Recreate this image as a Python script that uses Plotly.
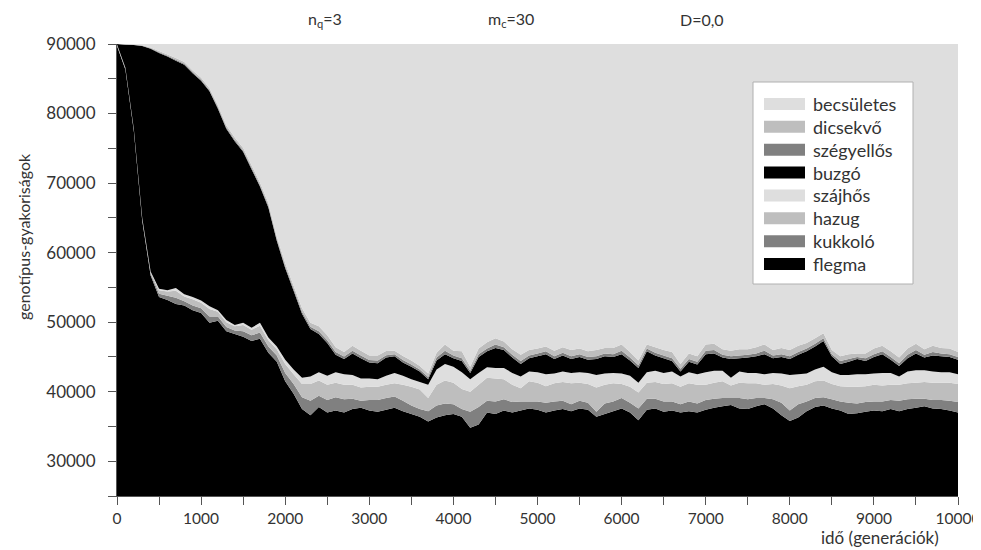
import plotly.graph_objects as go

generations = list(range(0, 10001, 100))

flegma = [89700, 86300, 77500, 64600, 56700, 53600, 53200, 52600, 52400, 51700,
          51300, 49900, 50200, 48700, 48300, 47900, 47300, 47600, 45600, 44300,
          41500, 39700, 37500, 36600, 37800, 37000, 37300, 37000, 37500, 37700,
          37300, 37100, 37400, 37700, 37200, 36800, 36400, 35700, 36300, 36600,
          36800, 36400, 34800, 35300, 37000, 36800, 37300, 37000, 37300, 37600,
          37400, 37000, 37300, 37500, 37200, 37600, 37400, 36400, 36800, 37200,
          37600, 37000, 35900, 37400, 37600, 37100, 37300, 37000, 37200, 37000,
          37400, 37700, 37900, 38100, 37600, 37500, 37900, 38200, 37600, 36600,
          35800, 36300, 37200, 37800, 38000, 37600, 37300, 36800, 36900, 37100,
          37300, 37200, 37500, 37200, 37500, 37700, 37900, 37600, 37500, 37300,
          37000]

kukkolo = [100, 100, 120, 150, 250, 500, 600, 900, 600, 700,
           700, 900, 600, 600, 500, 800, 800, 900, 900, 900,
           1200, 1400, 1700, 2100, 1600, 1800, 1900, 1900, 1500, 1000,
           1500, 1700, 1700, 1600, 1500, 1200, 1100, 1500, 1700, 1700,
           1400, 1100, 2300, 2500, 1700, 1800, 1600, 1500, 1300, 1000,
           1200, 1400, 1300, 1200, 1000, 1100, 1000, 700, 1500, 1400,
           1500, 1400, 1700, 1600, 1400, 1500, 1300, 1200, 1400, 1300,
           1400, 1300, 1200, 1000, 1500, 1400, 1200, 900, 1300, 1800,
           1500, 1900, 1400, 1300, 1200, 1300, 1300, 1600, 1400, 1400,
           1300, 1400, 1300, 1500, 1400, 1300, 1100, 1200, 1300, 1400,
           1500]

hazug = [100, 120, 120, 150, 250, 500, 600, 1000, 700, 900,
         800, 1100, 700, 700, 600, 900, 800, 1000, 900, 900,
         1300, 1400, 1900, 2400, 2200, 2200, 2100, 2100, 2000, 1900,
         1900, 1900, 1900, 1900, 2300, 2700, 2800, 1900, 3000, 3300,
         3100, 2900, 2900, 3200, 3300, 3300, 2900, 2500, 1900, 2900,
         2700, 2400, 2600, 2700, 3000, 2600, 2700, 3500, 2700, 2600,
         2000, 2300, 2300, 2300, 2400, 2500, 2600, 2500, 2600, 2700,
         2200, 2300, 2400, 1800, 2200, 2300, 2100, 1900, 2200, 2500,
         3200, 2600, 2400, 2400, 2400, 2200, 2200, 2300, 2400, 2300,
         2400, 2300, 2200, 2300, 2300, 2300, 2400, 2500, 2500, 2600,
         2600]

szajhos = [50, 80, 60, 100, 100, 200, 200, 400, 300, 300,
           300, 400, 200, 300, 200, 300, 300, 400, 400, 400,
           600, 700, 900, 1100, 1200, 1300, 1500, 1500, 1400, 1300,
           1200, 1100, 1300, 1500, 1300, 1100, 1100, 1900, 2200, 2400,
           2300, 2400, 1800, 1700, 1500, 1500, 1600, 1700, 1700, 1400,
           1500, 1700, 1400, 1500, 1500, 1500, 1600, 1800, 1600, 1500,
           1500, 1600, 1400, 1500, 1600, 1600, 1700, 1500, 1600, 1500,
           1800, 1700, 1500, 1100, 1600, 1500, 1500, 1500, 1600, 1700,
           1900, 1700, 1600, 1700, 2000, 1700, 1600, 1700, 1800, 1700,
           1600, 1800, 1700, 1200, 1700, 1800, 1700, 1600, 1500, 1500,
           1400]

buzgo = [50, 3300, 12050, 24700, 32000, 33900, 33600, 32700, 33000, 32200,
         31600, 30900, 29000, 27500, 26400, 24600, 22800, 19600, 18700, 15200,
         13200, 11300, 9200, 6800, 5500, 4700, 2500, 2200, 3100, 2900,
         2300, 2300, 2600, 2400, 1900, 1800, 1500, 800, 1300, 1400,
         1200, 1600, 900, 2300, 2300, 2900, 2600, 2200, 1800, 1900,
         2300, 2900, 2100, 2300, 2000, 2200, 1900, 2300, 2500, 2300,
         2800, 2200, 2100, 3000, 2200, 2100, 1500, 700, 1500, 1400,
         2600, 2500, 1900, 2700, 1900, 2200, 2400, 2900, 2100, 2400,
         2300, 2800, 3200, 3300, 3700, 2300, 1600, 1900, 2200, 1900,
         2400, 2700, 1900, 1500, 1900, 2400, 1800, 2300, 2300, 2200,
         2100]

szegyellos = [0, 20, 30, 50, 80, 100, 100, 150, 150, 150,
              150, 150, 200, 200, 200, 200, 200, 200, 250, 250,
              250, 300, 300, 350, 400, 400, 400, 350, 400, 400,
              350, 400, 350, 300, 350, 300, 300, 300, 400, 500,
              400, 400, 300, 400, 400, 500, 400, 400, 400, 400,
              400, 400, 400, 400, 400, 400, 400, 400, 400, 400,
              500, 400, 400, 400, 400, 400, 400, 400, 400, 400,
              500, 500, 400, 400, 400, 400, 400, 500, 400, 400,
              400, 400, 400, 400, 400, 300, 400, 400, 300, 400,
              400, 400, 400, 400, 500, 500, 400, 500, 400, 400,
              400]

dicsekvo = [0, 30, 50, 80, 120, 200, 200, 250, 250, 250,
            300, 300, 300, 300, 350, 350, 350, 400, 400, 400,
            450, 450, 500, 550, 700, 700, 700, 650, 700, 700,
            650, 700, 600, 500, 600, 600, 500, 500, 700, 900,
            700, 1000, 600, 800, 900, 900, 800, 800, 900, 800,
            700, 700, 800, 800, 900, 800, 800, 900, 800, 900,
            900, 800, 700, 600, 800, 800, 900, 700, 800, 800,
            900, 900, 800, 800, 900, 800, 900, 900, 800, 900,
            900, 900, 800, 800, 700, 600, 700, 700, 500, 700,
            800, 800, 800, 800, 900, 900, 800, 900, 800, 800,
            700]

becsuletes = [0, 50, 70, 170, 500, 1000, 1500, 2000, 2600, 3800,
              4850, 6350, 8800, 11700, 13450, 14950, 17450, 19900, 22850, 27650,
              31500, 34750, 38000, 40100, 40600, 41900, 43600, 44300, 43400, 44100,
              44800, 44800, 44150, 44100, 44850, 45500, 46300, 47400, 44400, 43200,
              44100, 44200, 46400, 43800, 42900, 42300, 42800, 43900, 44700, 44000,
              43800, 43500, 44100, 43600, 44000, 43800, 44200, 44000, 43700, 43700,
              43200, 44300, 45500, 43200, 43600, 44000, 44300, 46000, 44500, 44900,
              43200, 43100, 43900, 44100, 43900, 43900, 43600, 43200, 44000, 43700,
              44000, 43400, 43000, 42300, 41600, 44000, 44900, 44600, 44500, 44500,
              43800, 43400, 44200, 45100, 43800, 43100, 43900, 43400, 43700, 43800,
              44300]

series_names = ["flegma", "kukkoló", "hazug", "szájhős",
                "buzgó", "szégyellős", "dicsekvő", "becsületes"]
series_values = [flegma, kukkolo, hazug, szajhos,
                 buzgo, szegyellos, dicsekvo, becsuletes]
series_colors = ["#000000", "#808080", "#bebebe", "#dedede",
                 "#000000", "#808080", "#bebebe", "#dedede"]

x_tick_vals = list(range(0, 10001, 500))
x_tick_text = ["0", "", "1000", "", "2000", "", "3000", "", "4000", "", "5000", "",
               "6000", "", "7000", "", "8000", "", "9000", "", "10000"]
y_tick_vals = list(range(25000, 90001, 5000))
y_tick_text = ["", "30000", "", "40000", "", "50000", "", "60000", "",
               "70000", "", "80000", "", "90000"]

FONT = "Lato"
TXT = "#333333"
FS = 17

# The page body adds an offset; geometry below is given in screen pixels.
OX, OY = 8, 7
SCREEN_W, SCREEN_H = 981, 550
W, H = SCREEN_W - OX, SCREEN_H - OY
PL, PR, PT, PB = 117, 958, 43, 495          # plot area on screen
ML, MR, MT, MB = PL - OX, W - (PR - OX), PT - OY, H - (PB - OY)
PW, PH = PR - PL, PB - PT


def px(xs):
    return (xs - PL) / PW


def py(ys):
    return (PB - ys) / PH


fig = go.Figure()
for name, vals, col in zip(series_names, series_values, series_colors):
    fig.add_trace(go.Scatter(
        x=generations, y=vals, name=name, mode="none",
        stackgroup="one", fillcolor=col, line=dict(width=0),
        showlegend=False,
    ))

shapes = [dict(type="rect", xref="paper", yref="paper",
               x0=px(753), x1=px(913), y0=py(283), y1=py(81),
               fillcolor="white", line=dict(color="#b0b0b0", width=1), layer="above")]
annotations = []
row0, step = 103, 22.86
for i, (name, col) in enumerate(zip(series_names[::-1], series_colors[::-1])):
    yc = row0 + i * step
    shapes.append(dict(type="rect", xref="paper", yref="paper",
                       x0=px(764), x1=px(805), y0=py(yc + 6), y1=py(yc - 6),
                       fillcolor=col, line=dict(width=0), layer="above"))
    annotations.append(dict(text=name, xref="paper", yref="paper",
                            x=px(811), y=py(yc), xanchor="left", yanchor="middle",
                            showarrow=False, font=dict(size=FS + 1)))

annotations += [
    dict(text="n<sub>q</sub>=3", xref="x", yref="paper", x=2473, y=py(19),
         yanchor="middle", showarrow=False, font=dict(size=FS - 1)),
    dict(text="m<sub>c</sub>=30", xref="x", yref="paper", x=4685, y=py(19),
         yanchor="middle", showarrow=False, font=dict(size=FS - 1)),
    dict(text="D=0,0", xref="x", yref="paper", x=6956, y=py(19),
         yanchor="middle", showarrow=False, font=dict(size=FS - 1)),
    dict(text="idő (generációk)", xref="paper", yref="paper", x=px(941), y=py(536),
         xanchor="right", yanchor="middle", showarrow=False, font=dict(size=FS)),
    dict(text="genotípus-gyakoriságok", xref="paper", yref="paper", x=px(23),
         y=py(236), textangle=-90, xanchor="center", yanchor="middle",
         showarrow=False, font=dict(size=FS - 1)),
]

fig.update_layout(
    width=W, height=H,
    margin=dict(l=ML, r=MR, t=MT, b=MB),
    paper_bgcolor="white", plot_bgcolor="white",
    font=dict(family=FONT, size=FS, color=TXT),
    showlegend=False,
    xaxis=dict(
        range=[0, 10000], tickvals=x_tick_vals, ticktext=x_tick_text,
        showgrid=False, zeroline=False, showline=True, linecolor="#555555",
        linewidth=1, ticks="outside", ticklen=8, tickcolor="#555555",
        tickfont=dict(family=FONT, size=15.5, color=TXT), automargin=False,
        ticklabeloverflow="allow",
    ),
    yaxis=dict(
        range=[25000, 90000], tickvals=y_tick_vals, ticktext=y_tick_text,
        showgrid=False, zeroline=False, showline=True, linecolor="#555555",
        linewidth=1, ticks="outside", ticklen=8, tickcolor="#555555",
        tickfont=dict(family=FONT, size=FS, color=TXT), automargin=False,
        ticklabelstandoff=9,
    ),
    shapes=shapes,
    annotations=annotations,
)

fig.write_html("out.html")
